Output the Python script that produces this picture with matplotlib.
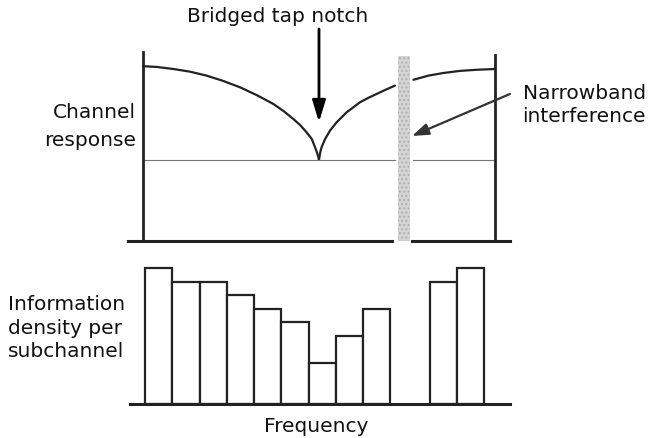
import matplotlib
matplotlib.use("Agg")
import matplotlib.pyplot as plt
import numpy as np

plt.rcParams['font.family'] = ['DejaVu Sans']

# ---- data (x in subchannel units) ----
# channel response curve, left of notch
resp_left_x = [-0.07, 0.43, 1.04, 1.65, 2.26, 2.87, 3.49, 4.10, 4.71, 5.08, 5.44,
               5.69, 5.93, 6.12, 6.24, 6.33, 6.385]
resp_left_y = [0.925, 0.921, 0.910, 0.896, 0.875, 0.847, 0.813, 0.772, 0.725, 0.688,
               0.646, 0.614, 0.575, 0.540, 0.496, 0.460, 0.429]
# right of notch up to the interference band
resp_mid_x = [6.385, 6.43, 6.48, 6.61, 6.79, 7.03, 7.40, 7.89, 8.19, 8.50, 8.84, 9.17]
resp_mid_y = [0.429, 0.469, 0.496, 0.540, 0.584, 0.628, 0.681, 0.734, 0.757, 0.778,
              0.801, 0.822]
# right of band
resp_right_x = [9.85, 10.40, 10.95, 11.56, 12.17, 12.84]
resp_right_y = [0.853, 0.875, 0.889, 0.900, 0.906, 0.910]
threshold = 0.429

band_x = [9.28, 9.72]
band_top = 0.979
left_edge_x = -0.07
right_edge_x = 12.84
right_edge_top = 0.984

# information density (bits) per subchannel
bar_left = [0, 1, 2, 3, 4, 5, 6, 7, 8, 10.45, 11.45]
bits = [10, 9, 9, 8, 7, 6, 3, 5, 7, 9, 10]

W, H = 648, 439
fig = plt.figure(figsize=(W / 100, H / 100), dpi=100)

def px_axes(x0, y0, x1, y1):
    return fig.add_axes([x0 / W, 1 - y1 / H, (x1 - x0) / W, (y1 - y0) / H])

xlim = ((120 - 145) / 27.25, (520 - 145) / 27.25)
ink = '#222222'

# ---- top panel ----
ax1 = px_axes(120, 45, 520, 250)
ax1.set_xlim(*xlim)
ax1.set_ylim((242 - 250) / 189, (242 - 45) / 189)
ax1.axis('off')

ax1.fill_between(band_x, 0, band_top, facecolor='#d4d4d4', edgecolor='#b0b0b0',
                 hatch='....', linewidth=0, zorder=1)
lkw = dict(color=ink, lw=1.6, solid_capstyle='round', solid_joinstyle='round')
ax1.plot(resp_left_x, resp_left_y, **lkw)
ax1.plot(resp_mid_x, resp_mid_y, **lkw)
ax1.plot(resp_right_x, resp_right_y, **lkw)
ax1.plot([left_edge_x, band_x[0] - 0.1], [threshold, threshold], color='#777777', lw=0.8)
ax1.plot([band_x[1] + 0.1, right_edge_x], [threshold, threshold], color='#777777', lw=0.8)
ax1.plot([left_edge_x, left_edge_x], [0, 1.0], color=ink, lw=2)
ax1.plot([right_edge_x, right_edge_x], [0, right_edge_top], color=ink, lw=2)
ax1.plot([-0.62, 9.06], [0, 0], color=ink, lw=2.2, clip_on=False)
ax1.plot([9.80, 13.39], [0, 0], color=ink, lw=2.2, clip_on=False)

# arrows
ax1.annotate('', xy=(6.385, (242 - 123) / 189), xytext=(6.385, (242 - 30) / 189),
             arrowprops=dict(arrowstyle='-|>,head_length=1.3,head_width=0.4',
                             color='black', lw=2, shrinkA=0, shrinkB=0),
             annotation_clip=False)
ax1.annotate('', xy=(9.80, (242 - 137) / 189), xytext=(13.39, (242 - 95) / 189),
             arrowprops=dict(arrowstyle='-|>,head_length=1.0,head_width=0.35',
                             color='#333333', lw=1.6, shrinkA=0, shrinkB=0),
             annotation_clip=False)

# ---- bottom panel ----
ax2 = px_axes(120, 255, 520, 415)
ax2.set_xlim(*xlim)
ax2.set_ylim((405 - 415) / 13.6, (405 - 255) / 13.6)
ax2.axis('off')
ax2.bar(bar_left, bits, width=1, align='edge', facecolor='white',
        edgecolor=ink, linewidth=1.6, zorder=2)
ax2.plot([(130 - 145) / 27.25, (510 - 145) / 27.25], [0, 0], color=ink, lw=2.2, zorder=3)

# ---- text ----
fs = 14.5
def ftext(x, y, s, **kw):
    fig.text(x / W, 1 - y / H, s, fontsize=fs, color='#111111', **kw)

ftext(278, 17, 'Bridged tap notch', ha='center', va='center')
ftext(136, 127, 'Channel\nresponse', ha='right', va='center', linespacing=1.6)
ftext(646, 105, 'Narrowband\ninterference', ha='right', va='center', linespacing=1.3)
ftext(8, 328, 'Information\ndensity per\nsubchannel', ha='left', va='center', linespacing=1.3)
ftext(316, 427, 'Frequency', ha='center', va='center')

fig.savefig('out.png', dpi=100)
